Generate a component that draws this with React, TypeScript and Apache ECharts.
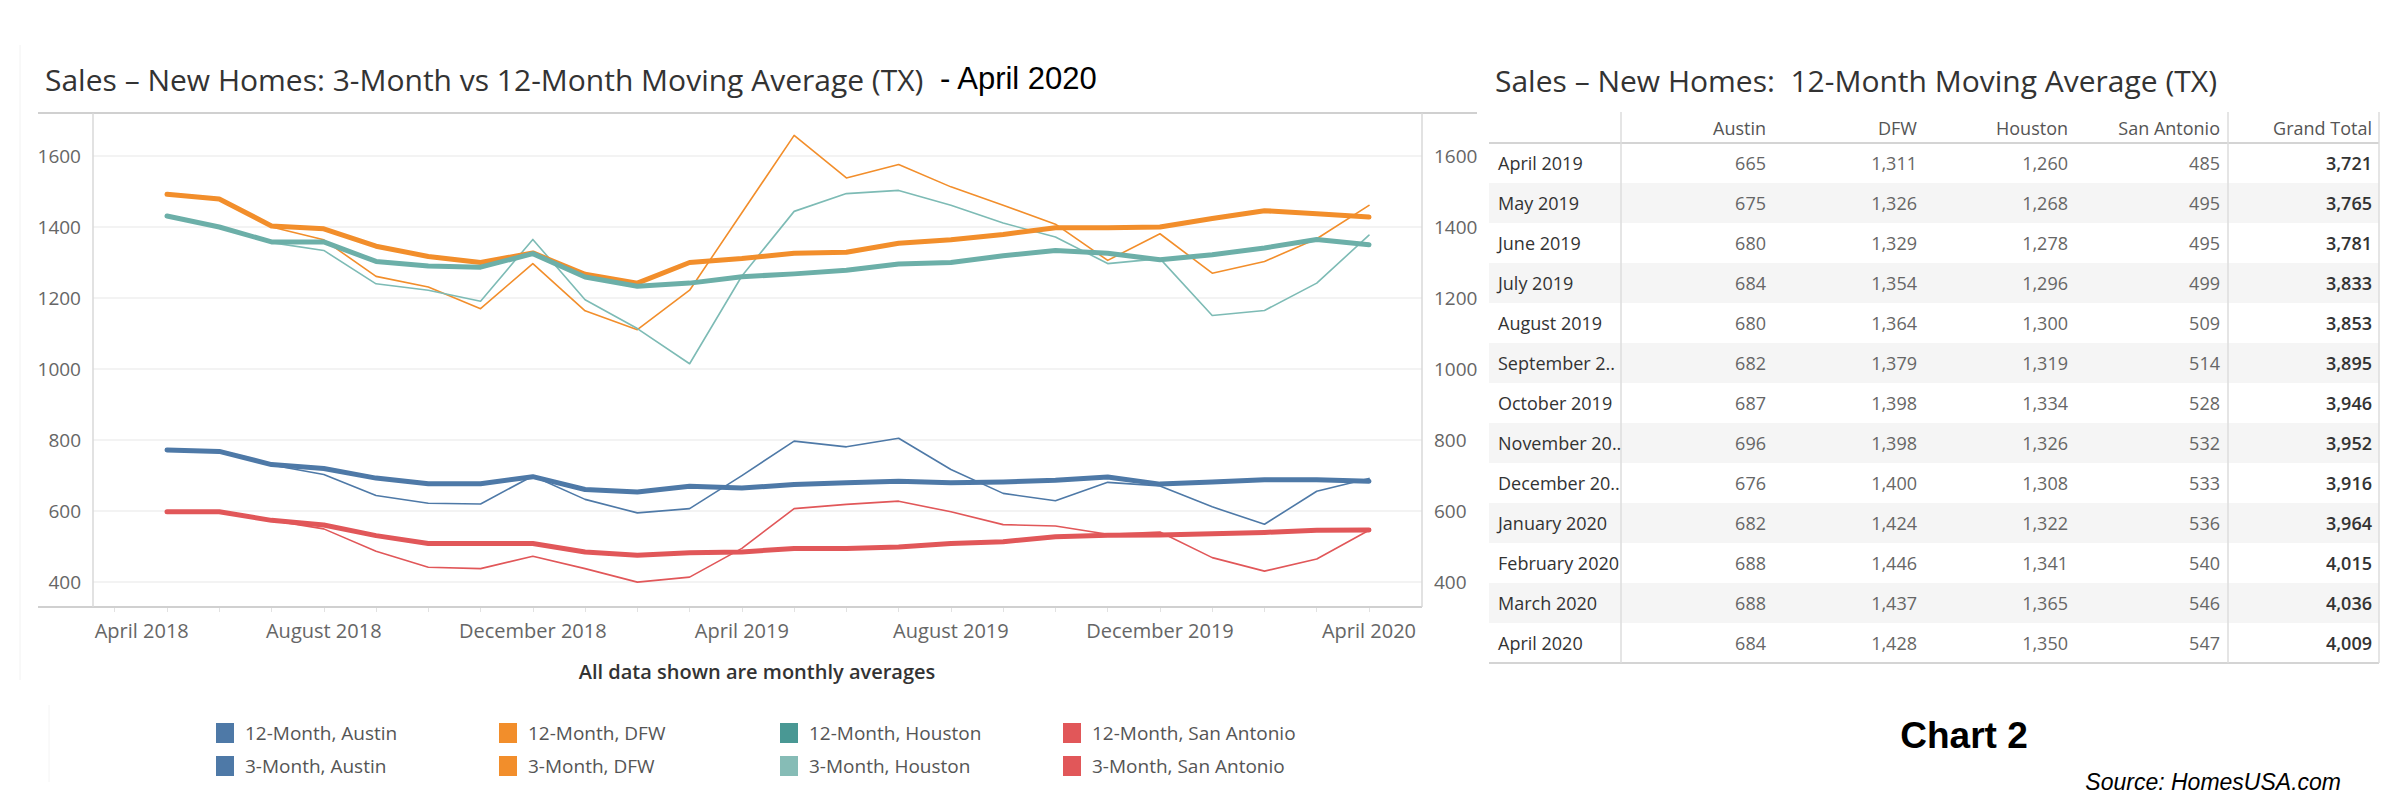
import { useEffect, useRef } from "react"
import * as echarts from "echarts"

// chart months: May 2018 .. April 2020 (index 0..23); April 2018 sits at index -1
const tickIdx = [-1, 3, 7, 11, 15, 19, 23]
const tickLabels = ["April 2018", "August 2018", "December 2018", "April 2019", "August 2019", "December 2019", "April 2020"]

const austin12 = [772, 768, 731, 720, 693, 677, 677, 697, 661, 654, 670, 665, 675, 680, 684, 680, 682, 687, 696, 676, 682, 688, 688, 684]
const austin3 = [772, 765, 730, 703, 644, 622, 620, 699, 633, 595, 607, 700, 797, 781, 805, 717, 650, 629, 681, 671, 612, 563, 656, 692]
const dfw12 = [1492, 1479, 1403, 1395, 1346, 1317, 1300, 1327, 1267, 1242, 1300, 1311, 1326, 1329, 1354, 1364, 1379, 1398, 1398, 1400, 1424, 1446, 1437, 1428]
const dfw3 = [1490, 1477, 1400, 1364, 1261, 1231, 1170, 1297, 1164, 1111, 1222, 1440, 1658, 1538, 1576, 1513, 1461, 1408, 1306, 1381, 1270, 1303, 1367, 1461]
const houston12 = [1431, 1400, 1358, 1358, 1303, 1290, 1287, 1325, 1259, 1233, 1242, 1260, 1268, 1278, 1296, 1300, 1319, 1334, 1326, 1308, 1322, 1341, 1365, 1350]
const houston3 = [1431, 1400, 1356, 1334, 1240, 1222, 1191, 1365, 1195, 1114, 1015, 1262, 1444, 1494, 1503, 1461, 1411, 1372, 1297, 1311, 1151, 1165, 1242, 1377]
const sa12 = [598, 598, 574, 561, 531, 509, 509, 509, 485, 476, 483, 485, 495, 495, 499, 509, 514, 528, 532, 533, 536, 540, 546, 547]
const sa3 = [598, 598, 574, 550, 487, 442, 438, 473, 438, 400, 414, 495, 607, 619, 628, 598, 562, 558, 535, 541, 469, 431, 465, 546]

// table: 12-month moving average
const tableHeaders = ["Austin", "DFW", "Houston", "San Antonio", "Grand Total"]
const tableMonths = ["April 2019", "May 2019", "June 2019", "July 2019", "August 2019", "September 2..", "October 2019", "November 20..", "December 20..", "January 2020", "February 2020", "March 2020", "April 2020"]
const tAustin = [665, 675, 680, 684, 680, 682, 687, 696, 676, 682, 688, 688, 684]
const tDfw = [1311, 1326, 1329, 1354, 1364, 1379, 1398, 1398, 1400, 1424, 1446, 1437, 1428]
const tHouston = [1260, 1268, 1278, 1296, 1300, 1319, 1334, 1326, 1308, 1322, 1341, 1365, 1350]
const tSanAntonio = [485, 495, 495, 499, 509, 514, 528, 532, 533, 536, 540, 546, 547]
const tTotal = [3721, 3765, 3781, 3833, 3853, 3895, 3946, 3952, 3916, 3964, 4015, 4036, 4009]

const legendRows = [
  ["12-Month, Austin", "12-Month, DFW", "12-Month, Houston", "12-Month, San Antonio"],
  ["3-Month, Austin", "3-Month, DFW", "3-Month, Houston", "3-Month, San Antonio"],
]
const legendColors = [
  ["#4e79a7", "#f28e2b", "#499894", "#e15759"],
  ["#4e79a7", "#f28e2b", "#86bcb6", "#e15759"],
]

const FONT = "'Open Sans', 'Noto Sans', sans-serif"

const pts = (arr: number[]) => arr.map((v, i) => [i, v])

export default function App() {
  const ref = useRef<HTMLDivElement>(null)

  useEffect(() => {
    document.body.style.margin = "0"
    if (!ref.current) return
    const chart = echarts.init(ref.current, null, { renderer: "svg" })

    const line = (name: string, data: number[], color: string, width: number) => ({
      type: "line",
      name,
      data: pts(data),
      showSymbol: false,
      symbol: "none",
      xAxisIndex: 0,
      yAxisIndex: 0,
      lineStyle: { color, width, cap: "round", join: "round" },
      itemStyle: { color },
      z: width > 3 ? 3 : 2,
    })

    const graphics: any[] = []
    // frame lines
    graphics.push(
      { type: "line", shape: { x1: 20, y1: 45, x2: 20, y2: 680 }, style: { stroke: "#f2f2f2", lineWidth: 1 } },
      { type: "line", shape: { x1: 49, y1: 705, x2: 49, y2: 782 }, style: { stroke: "#f4f4f4", lineWidth: 1 } },
      { type: "line", shape: { x1: 38, y1: 113, x2: 1477, y2: 113 }, style: { stroke: "#d0d0d0", lineWidth: 2 }, z: 10 },
      { type: "line", shape: { x1: 38, y1: 607, x2: 1422, y2: 607 }, style: { stroke: "#d0d0d0", lineWidth: 2 }, z: 10 },
      { type: "line", shape: { x1: 93, y1: 113, x2: 93, y2: 607 }, style: { stroke: "#d8d8d8", lineWidth: 1.5 }, z: 10 },
      { type: "line", shape: { x1: 1422, y1: 113, x2: 1422, y2: 607 }, style: { stroke: "#d8d8d8", lineWidth: 1.5 }, z: 10 },
    )
    // titles
    graphics.push(
      {
        type: "text", x: 45, y: 79,
        style: { text: "Sales – New Homes: 3-Month vs 12-Month Moving Average (TX)", fill: "#333", font: `30px ${FONT}`, verticalAlign: "middle" },
      },
      {
        type: "text", x: 940, y: 78,
        style: { text: "- April 2020", fill: "#000", font: "31px 'Liberation Sans', Arial, sans-serif", verticalAlign: "middle" },
      },
      {
        type: "text", x: 757, y: 671,
        style: { text: "All data shown are monthly averages", fill: "#333", font: `600 20px ${FONT}`, align: "center", verticalAlign: "middle" },
      },
    )
    // legend
    const legX = [216, 499, 780, 1063]
    const legY = [733, 766]
    legendRows.forEach((row, r) =>
      row.forEach((label, c) => {
        graphics.push(
          { type: "rect", shape: { x: legX[c], y: legY[r] - 10, width: 18, height: 20 }, style: { fill: legendColors[r][c] } },
          {
            type: "text", x: legX[c] + 29, y: legY[r],
            style: { text: label, fill: "#555", font: `19px ${FONT}`, verticalAlign: "middle" },
          },
        )
      }),
    )

    // table
    const tLeft = 1489
    const tRight = 2379
    const tTop = 112
    const headBottom = 143
    const rowH = 40
    const colRight = [1766, 1917, 2068, 2220, 2372]
    const tBottom = headBottom + rowH * tableMonths.length
    graphics.push({
      type: "text", x: 1495, y: 80,
      style: { text: "Sales – New Homes:  12-Month Moving Average (TX)", fill: "#333", font: `30px ${FONT}`, verticalAlign: "middle" },
    })
    tableMonths.forEach((_, r) => {
      if (r % 2 === 1) {
        graphics.push({
          type: "rect", shape: { x: tLeft, y: headBottom + r * rowH, width: tRight - tLeft, height: rowH },
          style: { fill: "#f5f5f5" },
        })
      }
    })
    graphics.push(
      { type: "line", shape: { x1: tLeft, y1: headBottom, x2: tRight, y2: headBottom }, style: { stroke: "#d4d4d4", lineWidth: 2 }, z: 5 },
      { type: "line", shape: { x1: tLeft, y1: tBottom, x2: tRight, y2: tBottom }, style: { stroke: "#d4d4d4", lineWidth: 2 }, z: 5 },
      { type: "line", shape: { x1: 1621, y1: tTop, x2: 1621, y2: tBottom }, style: { stroke: "#dcdcdc", lineWidth: 1.5 }, z: 5 },
      { type: "line", shape: { x1: 2228, y1: tTop, x2: 2228, y2: tBottom }, style: { stroke: "#dcdcdc", lineWidth: 1.5 }, z: 5 },
      { type: "line", shape: { x1: tRight, y1: tTop, x2: tRight, y2: tBottom }, style: { stroke: "#dcdcdc", lineWidth: 1.5 }, z: 5 },
    )
    tableHeaders.forEach((h, c) =>
      graphics.push({
        type: "text", x: colRight[c], y: 128,
        style: { text: h, fill: "#555", font: `18px ${FONT}`, align: "right", verticalAlign: "middle" },
        z: 6,
      }),
    )
    const cols = [tAustin, tDfw, tHouston, tSanAntonio, tTotal]
    tableMonths.forEach((m, r) => {
      const cy = headBottom + r * rowH + rowH / 2
      graphics.push({
        type: "text", x: 1498, y: cy,
        style: { text: m, fill: "#333", font: `18px ${FONT}`, verticalAlign: "middle" },
        z: 6,
      })
      cols.forEach((col, c) =>
        graphics.push({
          type: "text", x: colRight[c], y: cy,
          style: {
            text: col[r].toLocaleString("en-US"),
            fill: c === 4 ? "#333" : "#666",
            font: `${c === 4 ? "600 " : ""}18px ${FONT}`,
            align: "right", verticalAlign: "middle",
          },
          z: 6,
        }),
      )
    })
    graphics.push(
      {
        type: "text", x: 1964, y: 735,
        style: { text: "Chart 2", fill: "#000", font: "bold 37px 'Liberation Sans', Arial, sans-serif", align: "center", verticalAlign: "middle" },
      },
      {
        type: "text", x: 2341, y: 782,
        style: { text: "Source: HomesUSA.com", fill: "#000", font: "italic 23px 'Liberation Sans', Arial, sans-serif", align: "right", verticalAlign: "middle" },
      },
    )

    const yCommon = {
      type: "value",
      min: 330,
      max: 1721,
      splitNumber: 7,
      axisLine: { show: false },
      axisTick: { show: false },
      axisLabel: {
        color: "#666", fontSize: 19, fontFamily: FONT, margin: 12,
        showMinLabel: false, showMaxLabel: false,
        formatter: (v: number) => String(v),
      },
    }

    chart.setOption({
      animation: false,
      backgroundColor: "#fff",
      grid: { left: 93, top: 113, width: 1329, height: 494 },
      xAxis: {
        type: "value",
        min: -1.416,
        max: 24.014,
        axisLine: { show: false },
        axisTick: {
          show: true,
          customValues: Array.from({ length: 25 }, (_, i) => i - 1),
          length: 5,
          lineStyle: { color: "#e2e2e2" },
        },
        splitLine: { show: false },
        axisLabel: {
          customValues: tickIdx,
          // the first label is nudged right so it stays inside the plot, as in the source
          formatter: (v: number) => {
            const k = tickIdx.indexOf(Math.round(v))
            if (k < 0) return ""
            return k === 0 ? `{first|${tickLabels[k]}}` : tickLabels[k]
          },
          rich: { first: { padding: [0, 0, 0, 54], color: "#666", fontSize: 20, fontFamily: FONT } },
          color: "#666",
          fontSize: 20,
          fontFamily: FONT,
          margin: 13,
        },
      },
      yAxis: [
        {
          ...yCommon,
          position: "left",
          splitLine: { show: true, showMinLine: false, showMaxLine: false, lineStyle: { color: "#efefef", width: 1.5 } },
        },
        { ...yCommon, position: "right", splitLine: { show: false } },
      ],
      series: [
        line("3-Month, Austin", austin3, "#4e79a7", 1.6),
        line("3-Month, DFW", dfw3, "#f28e2b", 1.6),
        line("3-Month, Houston", houston3, "#7dbbb5", 1.6),
        line("3-Month, San Antonio", sa3, "#e15759", 1.6),
        line("12-Month, Austin", austin12, "#4e79a7", 5),
        line("12-Month, DFW", dfw12, "#f28e2b", 5),
        line("12-Month, Houston", houston12, "#6cafa8", 5),
        line("12-Month, San Antonio", sa12, "#e15759", 5),
      ],
      graphic: { elements: graphics },
    })

    return () => chart.dispose()
  }, [])

  return <div ref={ref} style={{ width: 2400, height: 800 }} />
}
